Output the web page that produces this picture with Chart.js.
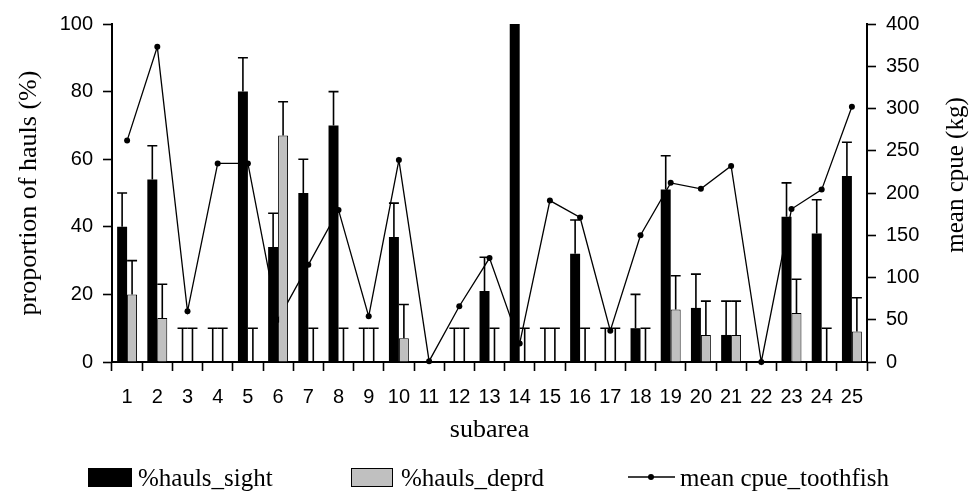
<!DOCTYPE html>
<html>
<head>
<meta charset="utf-8">
<script src="https://cdn.jsdelivr.net/npm/chart.js@4/dist/chart.umd.min.js"></script>
<style>
  html, body { margin: 0; padding: 0; background: #ffffff; }
  #wrap { width: 972px; height: 491px; }
</style>
</head>
<body>
<div id="wrap"><canvas id="chart" width="972" height="491"></canvas></div>
<script>
// Subareas along the x axis
const subareas = ['1','2','3','4','5','6','7','8','9','10','11','12','13','14','15','16','17','18','19','20','21','22','23','24','25'];

// Proportion of hauls with sightings (%) and its upper error
const haulsSight    = [40, 54, 0, 0, 80, 34, 50, 70, 0, 37, 0, 0, 21, 100, 0, 32, 0, 10, 51, 16, 8, 0, 43, 38, 55];
const haulsSightErr = [10, 10, 10, 10, 10, 10, 10, 10, 10, 10, null, 10, 10, null, 10, 10, 10, 10, 10, 10, 10, null, 10, 10, 10];

// Proportion of hauls with depredation (%) and its upper error
const haulsDeprd    = [20, 13, 0, 0, 0, 67, 0, 0, 0, 7, 0, 0, 0, 0, 0, 0, 0, 0, 15.5, 8, 8, 0, 14.5, 0, 9];
const haulsDeprdErr = [10, 10, 10, 10, 10, 10, 10, 10, 10, 10, null, 10, 10, 10, 10, 10, 10, 10, 10, 10, 10, null, 10, 10, 10];

// Mean CPUE of toothfish (kg), right axis
const cpueToothfish = [262, 373, 60, 235, 235, 50, 115, 180, 54, 239, 1, 66, 123, 22, 191, 171, 37, 150, 212, 205, 232, 0, 181, 204, 302];

const tickFont  = { family: 'Liberation Sans, Arial, sans-serif', size: 20 };
const titleFont = { family: 'Liberation Serif, Times New Roman, serif', size: 26 };
const legendFont = '25px "Liberation Serif", "Times New Roman", serif';

// Upper error whiskers with caps on each bar
const errorBars = {
  id: 'errorBars',
  afterDatasetsDraw(chart) {
    const ctx = chart.ctx;
    const yScale = chart.scales.y;
    chart.data.datasets.forEach((ds, di) => {
      if (!ds.errorBars) return;
      const meta = chart.getDatasetMeta(di);
      meta.data.forEach((bar, i) => {
        const err = ds.errorBars[i];
        if (err == null) return;
        const v = ds.data[i];
        const yBase = yScale.getPixelForValue(v);
        const yTop = yScale.getPixelForValue(v + err);
        const half = bar.width / 2;
        ctx.save();
        ctx.strokeStyle = '#000';
        ctx.lineWidth = 1.6;
        ctx.beginPath();
        ctx.moveTo(bar.x, yBase);
        ctx.lineTo(bar.x, yTop);
        ctx.moveTo(bar.x - half, yTop);
        ctx.lineTo(bar.x + half, yTop);
        ctx.stroke();
        ctx.restore();
      });
    });
  }
};

// Right-hand axis title, reading bottom to top
const rightTitle = {
  id: 'rightTitle',
  afterDraw(chart) {
    const ctx = chart.ctx;
    const area = chart.chartArea;
    ctx.save();
    ctx.translate(956, (area.top + area.bottom) / 2 - 18);
    ctx.rotate(-Math.PI / 2);
    ctx.font = '25px "Liberation Serif", "Times New Roman", serif';
    ctx.fillStyle = '#000';
    ctx.textAlign = 'center';
    ctx.textBaseline = 'middle';
    ctx.fillText('mean cpue (kg)', 0, 0);
    ctx.restore();
  }
};

// Legend row under the axis title
const legendRow = {
  id: 'legendRow',
  afterDraw(chart) {
    const ctx = chart.ctx;
    const ds = chart.data.datasets;
    const yMid = 477;
    ctx.save();
    ctx.font = legendFont;
    ctx.fillStyle = '#000';
    ctx.textBaseline = 'alphabetic';
    ctx.textAlign = 'left';

    // bar series swatches
    ctx.fillStyle = ds[0].backgroundColor;
    ctx.fillRect(88, 468, 44, 19);
    ctx.fillStyle = '#000';
    ctx.fillText(ds[0].label, 138, 486);

    ctx.fillStyle = ds[1].backgroundColor;
    ctx.fillRect(351, 468, 42, 19);
    ctx.strokeStyle = '#000';
    ctx.lineWidth = 1;
    ctx.strokeRect(351.5, 468.5, 41, 18);
    ctx.fillStyle = '#000';
    ctx.fillText(ds[1].label, 401, 486);

    // line series sample
    ctx.strokeStyle = ds[2].borderColor;
    ctx.lineWidth = 1.4;
    ctx.beginPath();
    ctx.moveTo(628, yMid);
    ctx.lineTo(675, yMid);
    ctx.stroke();
    ctx.beginPath();
    ctx.arc(651, yMid, 3, 0, Math.PI * 2);
    ctx.fill();
    ctx.fillText(ds[2].label, 680, 486);
    ctx.restore();
  }
};

const axisGrid = {
  display: true,
  drawOnChartArea: false,
  drawTicks: true,
  tickLength: 9,
  tickWidth: 1.6,
  tickColor: '#000',
  color: '#000'
};

new Chart(document.getElementById('chart'), {
  data: {
    labels: subareas,
    datasets: [
      {
        type: 'bar',
        label: '%hauls_sight',
        data: haulsSight,
        errorBars: haulsSightErr,
        backgroundColor: '#000000',
        borderWidth: 0,
        yAxisID: 'y',
        categoryPercentage: 0.66,
        barPercentage: 1.0,
        order: 1
      },
      {
        type: 'bar',
        label: '%hauls_deprd',
        data: haulsDeprd,
        errorBars: haulsDeprdErr,
        backgroundColor: '#c0c0c0',
        borderColor: '#000000',
        borderWidth: 1,
        yAxisID: 'y',
        categoryPercentage: 0.66,
        barPercentage: 1.0,
        order: 1
      },
      {
        type: 'line',
        label: 'mean cpue_toothfish',
        data: cpueToothfish,
        yAxisID: 'y1',
        borderColor: '#000000',
        borderWidth: 1.3,
        pointRadius: 3,
        pointBackgroundColor: '#000000',
        pointBorderWidth: 0,
        tension: 0,
        clip: false,
        order: 2
      }
    ]
  },
  options: {
    responsive: false,
    animation: false,
    devicePixelRatio: 1,
    layout: { padding: { top: 24, left: 0, right: 0, bottom: 0 } },
    plugins: {
      legend: { display: false },
      tooltip: { enabled: false }
    },
    scales: {
      x: {
        type: 'category',
        offset: true,
        grid: Object.assign({ offset: true }, axisGrid),
        border: { display: true, color: '#000', width: 2 },
        ticks: { autoSkip: false, maxRotation: 0, minRotation: 0, color: '#000', font: tickFont, padding: 14 },
        title: { display: true, text: 'subarea', color: '#000', font: titleFont, padding: { top: 0, bottom: 45 } },
        afterFit(scale) { scale.height = 129; }
      },
      y: {
        position: 'left',
        min: 0,
        max: 100,
        grid: axisGrid,
        border: { display: true, color: '#000', width: 2 },
        ticks: { stepSize: 20, color: '#000', font: tickFont, padding: 10 },
        title: { display: true, text: 'proportion of hauls (%)', color: '#000', font: titleFont, padding: { top: 14, bottom: 0 } },
        afterFit(scale) { scale.width = 112; }
      },
      y1: {
        position: 'right',
        min: 0,
        max: 400,
        grid: axisGrid,
        border: { display: true, color: '#000', width: 2 },
        ticks: { stepSize: 50, color: '#000', font: tickFont, padding: 10 },
        afterFit(scale) { scale.width = 105; }
      }
    }
  },
  plugins: [errorBars, rightTitle, legendRow]
});
</script>
</body>
</html>
